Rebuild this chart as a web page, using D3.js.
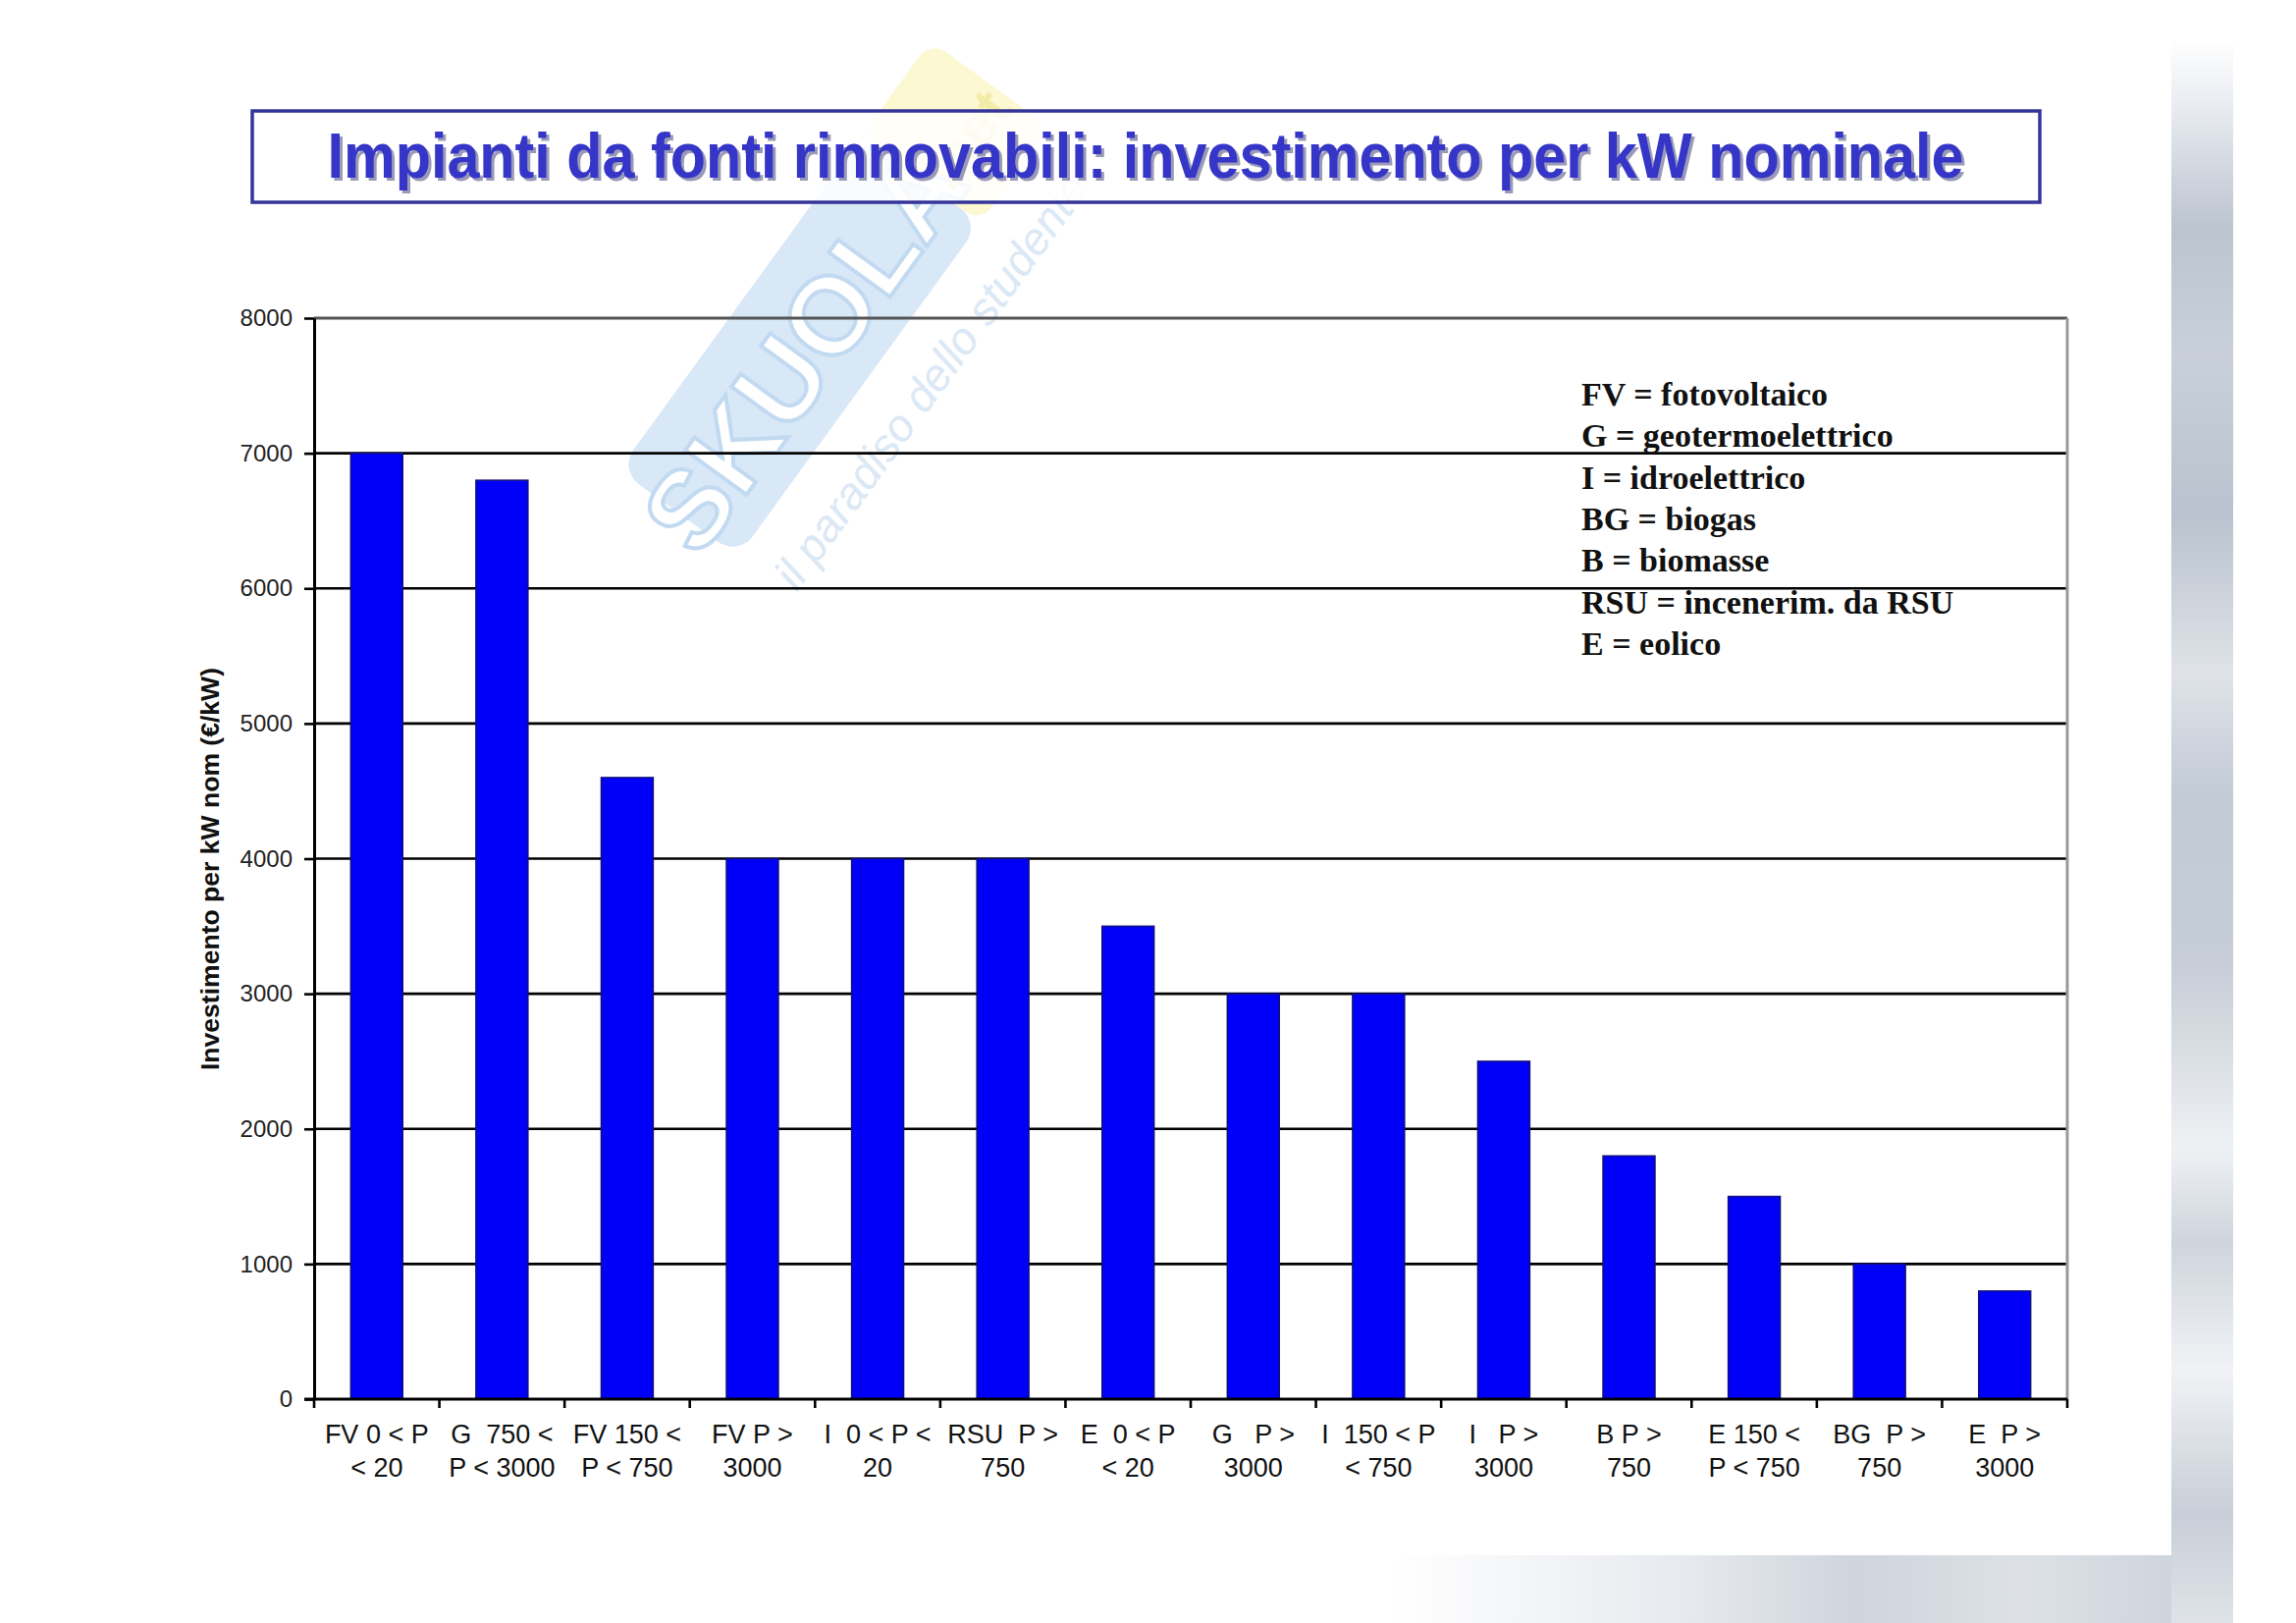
<!DOCTYPE html>
<html>
<head>
<meta charset="utf-8">
<script src="https://cdnjs.cloudflare.com/ajax/libs/d3/7.8.5/d3.min.js"></script>
<style>
  body { margin: 0; background: #fff; }
  text { white-space: pre; }
</style>
</head>
<body>
<div id="chart"></div>
<script>
// chart data
const labelTop = ["FV 0 < P", "G  750 <", "FV 150 <", "FV P >", "I  0 < P <", "RSU  P >", "E  0 < P",
                  "G   P >", "I  150 < P", "I   P >", "B P >", "E 150 <", "BG  P >", "E  P >"];
const labelBottom = ["< 20", "P < 3000", "P < 750", "3000", "20", "750", "< 20",
                     "3000", "< 750", "3000", "750", "P < 750", "750", "3000"];
const values = [7000, 6800, 4600, 4000, 4000, 4000, 3500, 3000, 3000, 2500, 1800, 1500, 1000, 800];
const yTicks = [0, 1000, 2000, 3000, 4000, 5000, 6000, 7000, 8000];
const legendLines = ["FV = fotovoltaico", "G = geotermoelettrico", "I = idroelettrico", "BG = biogas",
                     "B = biomasse", "RSU = incenerim. da RSU", "E = eolico"];
const titleText = "Impianti da fonti rinnovabili: investimento per kW nominale";
const yLabel = "Investimento per kW nom (\u20AC/kW)";

const W = 2339, H = 1653;
const plotL = 320, plotR = 2106, plotT = 324, plotB = 1425;

const svg = d3.select("#chart").append("svg").attr("width", W).attr("height", H);

// background decoration (slide template)
const defs = svg.append("defs");
const sideGrad = defs.append("linearGradient").attr("id", "side")
    .attr("x1", "0%").attr("y1", "0%").attr("x2", "0%").attr("y2", "100%");
[["0%", "#ffffff"], ["5%", "#e4e8ee"], ["12%", "#bcc4cf"], ["20%", "#c9d0da"], ["30%", "#b9c2ce"],
 ["40%", "#dfe3e8"], ["48%", "#c2cad6"], ["58%", "#c6cdd8"], ["63%", "#d6dbe0"], ["70%", "#eef1f4"],
 ["76%", "#cfd5dd"], ["84%", "#f0f2f5"], ["93%", "#c8cfd8"], ["100%", "#dfe3e9"]]
  .forEach(s => sideGrad.append("stop").attr("offset", s[0]).attr("stop-color", s[1]));
const botGrad = defs.append("linearGradient").attr("id", "bot")
    .attr("x1", "0%").attr("y1", "0%").attr("x2", "100%").attr("y2", "0%");
[["0%", "#ffffff"], ["35%", "#e6e9ee"], ["55%", "#cfd5dd"], ["75%", "#dde1e7"], ["100%", "#c9d0d9"]]
  .forEach(s => botGrad.append("stop").attr("offset", s[0]).attr("stop-color", s[1]));

svg.append("rect").attr("x", 1420).attr("y", 1584).attr("width", 855).attr("height", 69).attr("fill", "url(#bot)");
svg.append("rect").attr("x", 2212).attr("y", 40).attr("width", 63).attr("height", 1613).attr("fill", "url(#side)");

// watermark
const wm = svg.append("g").attr("transform", "translate(858,310) rotate(-54)").attr("opacity", 0.8);
wm.append("rect").attr("x", -270).attr("y", -85).attr("width", 420).attr("height", 150).attr("rx", 25)
  .attr("fill", "#cfe3f6");
wm.append("rect").attr("x", 150).attr("y", -85).attr("width", 120).attr("height", 150).attr("rx", 20)
  .attr("fill", "#fbf7c8");
wm.append("text").attr("x", -60).attr("y", 35).attr("text-anchor", "middle")
  .attr("font-family", "Liberation Sans").attr("font-weight", "bold").attr("font-size", 112)
  .attr("fill", "#ffffff").attr("stroke", "#b3d1ee").attr("stroke-width", 4).text("SKUOLA");
wm.append("text").attr("x", 210).attr("y", 25).attr("text-anchor", "middle")
  .attr("font-family", "Liberation Sans").attr("font-weight", "bold").attr("font-size", 60)
  .attr("fill", "#f0e890").text(".net");
wm.append("text").attr("x", -10).attr("y", 135).attr("text-anchor", "middle")
  .attr("font-family", "Liberation Sans").attr("font-style", "italic").attr("font-size", 46)
  .attr("fill", "#d3e3f3").text("il paradiso dello studente");

// title box
svg.append("rect").attr("x", 257).attr("y", 113).attr("width", 1821).attr("height", 93)
  .attr("fill", "#fff").attr("fill-opacity", 0.85).attr("stroke", "#343499").attr("stroke-width", 3.5);
svg.append("text").attr("x", 1170).attr("y", 184).attr("text-anchor", "middle")
  .attr("font-family", "Liberation Sans").attr("font-weight", "bold").attr("font-size", 64)
  .attr("textLength", 1667).attr("lengthAdjust", "spacingAndGlyphs")
  .attr("fill", "#9a9ab8").text(titleText);
svg.append("text").attr("x", 1167).attr("y", 181).attr("text-anchor", "middle")
  .attr("font-family", "Liberation Sans").attr("font-weight", "bold").attr("font-size", 64)
  .attr("textLength", 1667).attr("lengthAdjust", "spacingAndGlyphs")
  .attr("fill", "#3535c8").text(titleText);

// scales
const x = d3.scaleBand().domain(d3.range(values.length)).range([plotL, plotR])
  .paddingInner(0.585).paddingOuter(0.2925);
const y = d3.scaleLinear().domain([0, 8000]).range([plotB, plotT]);

// gridlines
svg.append("g").selectAll("line").data(yTicks.filter(v => v > 0 && v < 8000)).enter().append("line")
  .attr("x1", plotL).attr("x2", plotR).attr("y1", d => y(d)).attr("y2", d => y(d))
  .attr("stroke", "#000").attr("stroke-width", 2.6);
svg.append("line").attr("x1", plotL).attr("x2", plotR).attr("y1", y(8000)).attr("y2", y(8000))
  .attr("stroke", "#555").attr("stroke-width", 3);
svg.append("line").attr("x1", plotR).attr("x2", plotR).attr("y1", y(8000)).attr("y2", y(0))
  .attr("stroke", "#9a9a9a").attr("stroke-width", 3);

// bars
svg.append("g").selectAll("rect").data(values).enter().append("rect")
  .attr("x", (d, i) => x(i)).attr("width", x.bandwidth())
  .attr("y", d => y(d)).attr("height", d => y(0) - y(d))
  .attr("fill", "#0000f8").attr("stroke", "#10107a").attr("stroke-width", 1.5);

// y axis
const yAxis = svg.append("g").attr("transform", `translate(${plotL},0)`)
  .call(d3.axisLeft(y).tickValues(yTicks).tickFormat(d3.format("d"))
    .tickSize(10).tickPadding(12).tickSizeOuter(0));
yAxis.select(".domain").attr("stroke", "#000").attr("stroke-width", 3);
yAxis.selectAll(".tick line").attr("stroke", "#000").attr("stroke-width", 2.6);
yAxis.selectAll(".tick text").attr("font-family", "Liberation Sans").attr("font-size", 24).attr("fill", "#222");

// x axis
const step = x.step();
const bounds = d3.range(values.length + 1).map(i => plotL + i * step);
svg.append("line").attr("x1", plotL - 10).attr("x2", plotR).attr("y1", plotB).attr("y2", plotB)
  .attr("stroke", "#000").attr("stroke-width", 3);
svg.append("g").selectAll("line").data(bounds).enter().append("line")
  .attr("x1", d => d).attr("x2", d => d).attr("y1", plotB).attr("y2", plotB + 9)
  .attr("stroke", "#000").attr("stroke-width", 2.6);

const xl = svg.append("g").selectAll("text").data(values).enter().append("text")
  .attr("x", (d, i) => x(i) + x.bandwidth() / 2).attr("text-anchor", "middle")
  .attr("font-family", "Liberation Sans").attr("font-size", 27).attr("fill", "#111");
xl.append("tspan").attr("y", 1470).attr("x", (d, i) => x(i) + x.bandwidth() / 2).text((d, i) => labelTop[i]);
xl.append("tspan").attr("y", 1504).attr("x", (d, i) => x(i) + x.bandwidth() / 2).text((d, i) => labelBottom[i]);

// y label
svg.append("text").attr("transform", "translate(223,885) rotate(-90)").attr("text-anchor", "middle")
  .attr("font-family", "Liberation Sans").attr("font-weight", "bold").attr("font-size", 25)
  .attr("textLength", 410).attr("lengthAdjust", "spacingAndGlyphs")
  .attr("fill", "#111").text(yLabel);

// legend
svg.append("g").selectAll("text").data(legendLines).enter().append("text")
  .attr("x", 1611).attr("y", (d, i) => 413 + i * 42.3)
  .attr("font-family", "Liberation Serif").attr("font-weight", "bold").attr("font-size", 34)
  .attr("fill", "#111").text(d => d);
</script>
</body>
</html>
